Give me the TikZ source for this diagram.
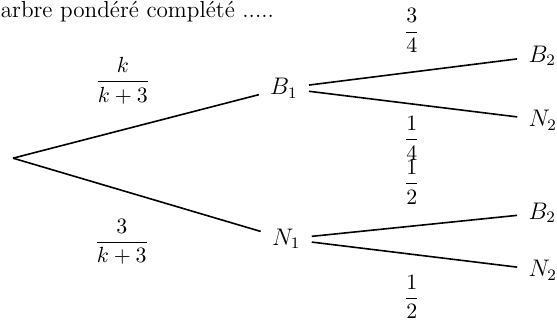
\documentclass[tikz,border=0pt]{standalone}
\usepackage{amsmath}
\usepackage{tikz}

\begin{document}
\begin{tikzpicture}[every node/.style={inner sep=5.3pt, font=\fontsize{11.6}{14}\selectfont}, proba/.style={inner sep=0pt, font=\fontsize{10.6}{13}\selectfont}, line width=0.8pt]
  \useasboundingbox (0,0) rectangle (9.79,-5.68);
  \node[anchor=base west, inner sep=0pt] (titre) at (0,-0.30) {arbre pondéré complété .....};
  \coordinate (r) at (0.23,-2.78);
  \node (b1) at (4.99,-1.55) {$B_1$};
  \node (n1) at (5.03,-4.20) {$N_1$};
  \node (b2h) at (9.53,-0.98) {$B_2$};
  \node (n2h) at (9.54,-2.11) {$N_2$};
  \node (b2b) at (9.53,-3.74) {$B_2$};
  \node (n2b) at (9.54,-4.75) {$N_2$};
  \draw (r) -- (b1);
  \draw (r) -- (n1);
  \draw (b1) -- (b2h);
  \draw (b1) -- (n2h);
  \draw (n1) -- (b2b);
  \draw (n1) -- (n2b);
  \node[proba] (pb1) at (2.16,-1.42) {$\dfrac{k}{k+3}$};
  \node[proba] (pn1) at (2.14,-4.25) {$\dfrac{3}{k+3}$};
  \node[proba] (pb2h) at (7.24,-0.54) {$\dfrac{3}{4}$};
  \node[proba] (pn2h) at (7.24,-2.43) {$\dfrac{1}{4}$};
  \node[proba] (pb2b) at (7.24,-3.20) {$\dfrac{1}{2}$};
  \node[proba] (pn2b) at (7.24,-5.22) {$\dfrac{1}{2}$};
\end{tikzpicture}
\end{document}
